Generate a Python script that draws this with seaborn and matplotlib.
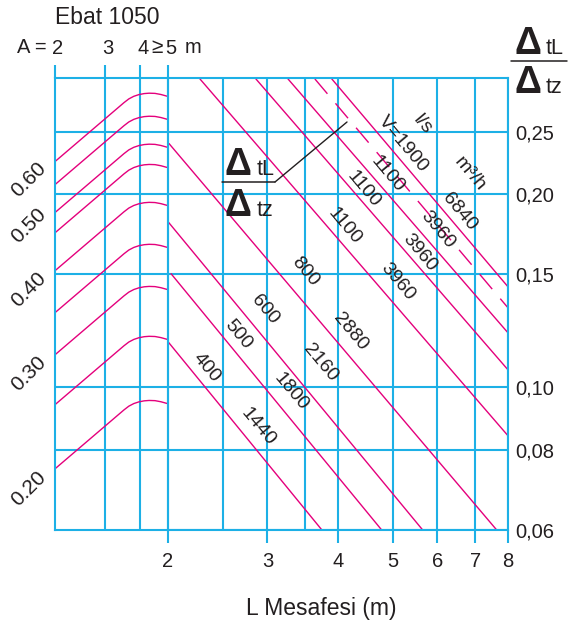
import matplotlib
matplotlib.use("Agg")
import matplotlib.pyplot as plt
from matplotlib.lines import Line2D
from matplotlib.ticker import NullFormatter
from matplotlib.transforms import ScaledTranslation
import numpy as np
import pandas as pd
import seaborn as sns

sns.set_theme(style="white")
plt.rcParams["font.family"] = ["Liberation Sans", "DejaVu Sans"]

GRID = "#1DB0E6"
MAG = "#E4007C"
INK = "#231F20"
W, H = 579, 632

# ---- left panel: outlet distance A (m) ----
a_ticks = [2, 3, 4, 5]
a_tick_labels = ["2", "3", "4", "5"]
a_grid = [3, 4]
# common curve shape: factor on the ratio read at A = 2
a_profile_A = [2.0, 3.50, 3.64, 3.79, 3.95, 4.12, 4.29, 4.50, 4.72, 4.96]
a_profile_k = [1.0, 1.2352, 1.2518, 1.2635, 1.2712, 1.2758, 1.2776, 1.2767, 1.2717, 1.2640]
a_start = [0.2246, 0.2068, 0.1871, 0.1740, 0.1519, 0.1307, 0.1124, 0.0940, 0.0747]
left_labels = ["0.60", "0.50", "0.40", "0.30", "0.20"]
left_label_pos = [0.2105, 0.1785, 0.1419, 0.1050, 0.0695]

# ---- right panel: distance L (m) vs. temperature ratio ----
ratio_ticks = [0.06, 0.08, 0.10, 0.15, 0.20, 0.25]
ratio_labels = ["0,06", "0,08", "0,10", "0,15", "0,20", "0,25"]
L_ticks = [2, 3, 4, 5, 6, 7, 8]
L_grid_extra = [2.5, 3.5]

flow_ls = [400, 500, 600, 800, 1100, 1100, 1100, 1900]
flow_m3h = [1440, 1800, 2160, 2880, 3960, 3960, 3960, 6840]
line_L0 = [2.0, 2.025, 2.0, 2.008, 2.278, 2.862, 3.262, 3.90]
line_r0 = [0.1178, 0.1503, 0.1811, 0.2396, 0.302, 0.302, 0.302, 0.302]
line_L1 = [3.746, 4.78, 5.65, 7.64, 8.0, 8.0, 8.0, 8.0]
line_r1 = [0.06, 0.06, 0.06, 0.06, 0.0841, 0.1065, 0.1216, 0.1434]
# dashed line without label
dash_L = [3.64, 8.0]
dash_r = [0.302, 0.1330]

# label anchor points (L, ratio)
ls_lab_L = [2.336, 2.661, 2.970, 3.496, 4.11, 4.43, 4.89, 5.21]
ls_lab_r = [0.1073, 0.1207, 0.1321, 0.1514, 0.1779, 0.2031, 0.2144, 0.2387]
m3_lab_L = [2.886, 3.302, 3.718, 4.200, 5.11, 5.59, 6.01, 6.57]
m3_lab_r = [0.0868, 0.0984, 0.1092, 0.1220, 0.1460, 0.1621, 0.1760, 0.1877]


def box(x0, y0, x1, y1):
    return [x0 / W, 1 - y1 / H, (x1 - x0) / W, (y1 - y0) / H]


def fxy(x, y):
    return x / W, 1 - y / H


fig = plt.figure(figsize=(W / 100, H / 100), dpi=100)
fig.patch.set_facecolor("white")
ax_a = fig.add_axes(box(55, 78, 168, 530))
ax_l = fig.add_axes(box(168, 78, 508, 530))

for ax in (ax_a, ax_l):
    ax.set_xscale("log")
    ax.set_yscale("log")
    ax.set_ylim(0.06, 0.303)
    ax.set_facecolor("white")
    for s in ax.spines.values():
        s.set_color(GRID)
        s.set_linewidth(1.5)
        s.set_visible(True)

ax_a.set_xlim(2, 5)
ax_l.set_xlim(2, 8)

# A-curves
rows = []
for i, s in enumerate(a_start):
    for A, k in zip(a_profile_A, a_profile_k):
        rows.append(dict(curve=i, A=A, r=s * k))
df_a = pd.DataFrame(rows)
sns.lineplot(data=df_a, x="A", y="r", units="curve", estimator=None, sort=False,
             color=MAG, lw=1.0, ax=ax_a, legend=False)

# flow lines
rows = []
for i in range(len(flow_ls)):
    rows.append(dict(line=i, L=line_L0[i], r=line_r0[i]))
    rows.append(dict(line=i, L=line_L1[i], r=line_r1[i]))
df_l = pd.DataFrame(rows)
sns.lineplot(data=df_l, x="L", y="r", units="line", estimator=None, sort=False,
             color=MAG, lw=1.0, ax=ax_l, legend=False)
df_d = pd.DataFrame(dict(L=dash_L, r=dash_r))
sns.lineplot(data=df_d, x="L", y="r", estimator=None, sort=False,
             color=MAG, lw=1.0, linestyle=(0, (14, 9)), ax=ax_l, legend=False)

# line labels
LAB = 14
for i in range(len(flow_ls)):
    t1 = f"V={flow_ls[i]}" if flow_ls[i] == 1900 else str(flow_ls[i])
    ax_l.text(ls_lab_L[i], ls_lab_r[i], t1, rotation=-50, ha="center", va="center",
              fontsize=LAB, color=INK, rotation_mode="anchor")
    ax_l.text(m3_lab_L[i], m3_lab_r[i], str(flow_m3h[i]), rotation=-50, ha="center",
              va="center", fontsize=LAB, color=INK, rotation_mode="anchor")
ax_l.text(5.65, 0.2564, "l/s", rotation=-50, ha="center", va="center", fontsize=LAB,
          color=INK, rotation_mode="anchor")
ax_l.text(6.85, 0.2144, "m³/h", rotation=-50, ha="center", va="center", fontsize=LAB,
          color=INK, rotation_mode="anchor")

# ticks & grid, right panel
ax_l.set_xticks(L_ticks, labels=[str(v) for v in L_ticks])
ax_l.set_xticks(L_grid_extra, minor=True)
ax_l.xaxis.set_minor_formatter(NullFormatter())
ax_l.set_yticks(ratio_ticks, labels=ratio_labels)
ax_l.set_yticks([], minor=True)
ax_l.yaxis.tick_right()
ax_l.tick_params(axis="x", which="major", bottom=True, direction="out", length=9.5,
                 width=1.5, color=GRID, pad=6, labelsize=14.5, labelcolor=INK)
ax_l.tick_params(axis="x", which="minor", bottom=True, length=0)
ax_l.tick_params(axis="y", which="major", right=True, left=False, length=0, pad=5,
                 labelsize=14.5, labelcolor=INK)
ax_l.grid(True, axis="x", which="both", color=GRID, lw=1.5)
ax_l.grid(True, axis="y", which="major", color=GRID, lw=1.5)
ax_l.set_xlabel("")
ax_l.set_ylabel("")

# ticks & grid, left panel
ax_a.xaxis.tick_top()
ax_a.set_xticks(a_ticks, labels=a_tick_labels)
ax_a.set_xticks([], minor=True)
ax_a.tick_params(axis="x", which="major", top=True, bottom=False, direction="out",
                 length=9.5, width=1.5, color=GRID, pad=5, labelsize=14.5,
                 labelcolor=INK)
shift = ScaledTranslation(3 / 100, 0, fig.dpi_scale_trans)
for t in ax_a.get_xticklabels():
    t.set_transform(t.get_transform() + shift)
ax_a.set_yticks(ratio_ticks[1:], labels=[""] * 5)
ax_a.set_yticks(left_label_pos, labels=left_labels, minor=True)
ax_a.tick_params(axis="y", which="both", left=True, length=0, labelsize=15,
                 labelcolor=INK)
ax_a.tick_params(axis="y", which="minor", pad=19)
for t in ax_a.get_yticklabels(minor=True):
    t.set_rotation(45)
    t.set_ha("center")
    t.set_va("center")
ax_a.grid(True, axis="y", which="major", color=GRID, lw=1.5)
for v in a_grid:
    ax_a.axvline(v, color=GRID, lw=1.5, zorder=0.5)
ax_a.set_xlabel("")
ax_a.set_ylabel("")

# A = ... header
xt = ax_a.get_xaxis_transform()
ax_a.text(1.875, 1.068, "A =", transform=xt, ha="right", va="center", fontsize=14.5,
          color=INK)
ax_a.text(4.59, 1.068, "≥", transform=xt, ha="center", va="center", fontsize=15,
          color=INK)
ax_a.text(6.12, 1.068, "m", transform=xt, ha="center", va="center", fontsize=14.5,
          color=INK)

# titles
fig.text(*fxy(55, 18), "Ebat 1050", ha="left", va="center", fontsize=16.5, color=INK)
fig.text(*fxy(321, 609), "L Mesafesi (m)", ha="center", va="center", fontsize=16.5,
         color=INK)


def ratio_fraction(xd, yb_top, yb_bot, xt, x_bar0, x_bar1, y_bar):
    fig.text(*fxy(xd, yb_top), "Δ", ha="center", va="baseline", fontsize=27,
             fontweight="bold", color=INK)
    fig.text(*fxy(xt, yb_top), "tL", ha="left", va="baseline", fontsize=15.5, color=INK)
    fig.text(*fxy(xd, yb_bot), "Δ", ha="center", va="baseline", fontsize=27,
             fontweight="bold", color=INK)
    fig.text(*fxy(xt, yb_bot), "tz", ha="left", va="baseline", fontsize=15.5, color=INK)
    (x0, y0), (x1, y1) = fxy(x_bar0, y_bar), fxy(x_bar1, y_bar)
    fig.add_artist(Line2D([x0, x1], [y0, y1], color=INK, lw=1.1,
                          transform=fig.transFigure))


ratio_fraction(528, 54, 93, 546, 511, 567, 61)
ratio_fraction(238, 175, 216, 257, 222, 275, 182)
(p0, q0), (p1, q1) = fxy(275, 182), fxy(347, 122)
fig.add_artist(Line2D([p0, p1], [q0, q1], color=INK, lw=1.0, transform=fig.transFigure))

fig.savefig("out.png", dpi=100, facecolor="white")
